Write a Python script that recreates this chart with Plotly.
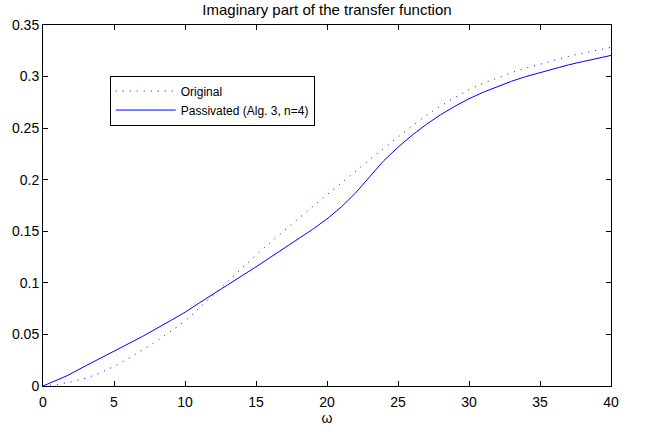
import plotly.graph_objects as go

# frequency grid and values
omega_orig = [0, 1, 2, 3, 4, 5, 6, 7, 8, 9, 10, 11, 12, 13, 14, 15, 16, 17, 18, 19, 20,
              21, 22, 23, 24, 25, 26, 27, 28, 29, 30, 31, 32, 33, 34, 35, 36, 37, 38, 39, 40]
imag_orig = [0, 0.0015, 0.004, 0.0075, 0.0125, 0.019, 0.0265, 0.035, 0.0435, 0.053,
             0.063, 0.0755, 0.0885, 0.1015, 0.1145, 0.127, 0.139, 0.151, 0.1625, 0.174,
             0.1855, 0.197, 0.2085, 0.2195, 0.2305, 0.2415, 0.2522, 0.2625, 0.2715, 0.2795,
             0.2875, 0.2935, 0.299, 0.3038, 0.3082, 0.3122, 0.316, 0.3195, 0.3227, 0.3256,
             0.3283]

omega_pass = [0, 1.7, 3, 5, 7, 9, 10, 11, 12, 13, 15, 17, 19, 20, 21, 22, 22.7, 23.2, 24,
              25, 26, 27, 28, 29, 30, 31, 32, 33, 34, 35, 36, 37, 38, 39, 40]
imag_pass = [0, 0.0100, 0.0195, 0.0335, 0.048, 0.0635, 0.0715, 0.0805, 0.0895, 0.098,
             0.1155, 0.1335, 0.152, 0.162, 0.1735, 0.187, 0.198, 0.2065, 0.2185, 0.2315,
             0.2432, 0.2537, 0.263, 0.2712, 0.2785, 0.2848, 0.2905, 0.2955, 0.300, 0.304,
             0.3078, 0.3113, 0.3145, 0.3175, 0.3205]

x_ticks = [0, 5, 10, 15, 20, 25, 30, 35, 40]
y_ticks = [0, 0.05, 0.1, 0.15, 0.2, 0.25, 0.3, 0.35]
y_labels = ["0", "0.05", "0.1", "0.15", "0.2", "0.25", "0.3", "0.35"]

FONT = "Liberation Sans, Arial, Helvetica, sans-serif"

fig = go.Figure()
fig.add_scatter(x=omega_orig, y=imag_orig, mode="lines", name="Original",
                line=dict(color="#0000ff", width=1, dash="1px,6px"))
fig.add_scatter(x=omega_pass, y=imag_pass, mode="lines", name="Passivated (Alg. 3, n=4)",
                line=dict(color="#0000ff", width=1))

axis_common = dict(showline=True, linecolor="black", linewidth=1, mirror="ticks",
                   ticks="inside", ticklen=5, tickcolor="black", showgrid=False,
                   zeroline=False, tickfont=dict(size=14, color="black"))

fig.update_xaxes(range=[0, 40], tickvals=x_ticks, ticklabelstandoff=3, **axis_common,
                 title=dict(text="ω", font=dict(size=14, color="black"), standoff=0))
fig.update_yaxes(range=[0, 0.35], tickvals=y_ticks, ticktext=y_labels, **axis_common)

fig.update_layout(
    width=648, height=432,
    margin=dict(l=41, r=37, t=25, b=36),
    paper_bgcolor="white", plot_bgcolor="white",
    font=dict(family=FONT, size=14, color="black"),
    title=dict(text="Imaginary part of the transfer function", xref="paper", x=0.5,
               xanchor="center", y=0.977, yanchor="middle",
               font=dict(size=15, color="black")),
    legend=dict(x=0.1175, y=0.86, xanchor="left", yanchor="top",
                bordercolor="black", borderwidth=1, bgcolor="white",
                itemwidth=60, tracegroupgap=0, font=dict(size=12, color="black")),
    showlegend=True,
)

# the page's default body margin would shift the chart by 8px
fig.write_html("out.html", config={"displayModeBar": False},
               post_script="document.body.style.margin='0';")
